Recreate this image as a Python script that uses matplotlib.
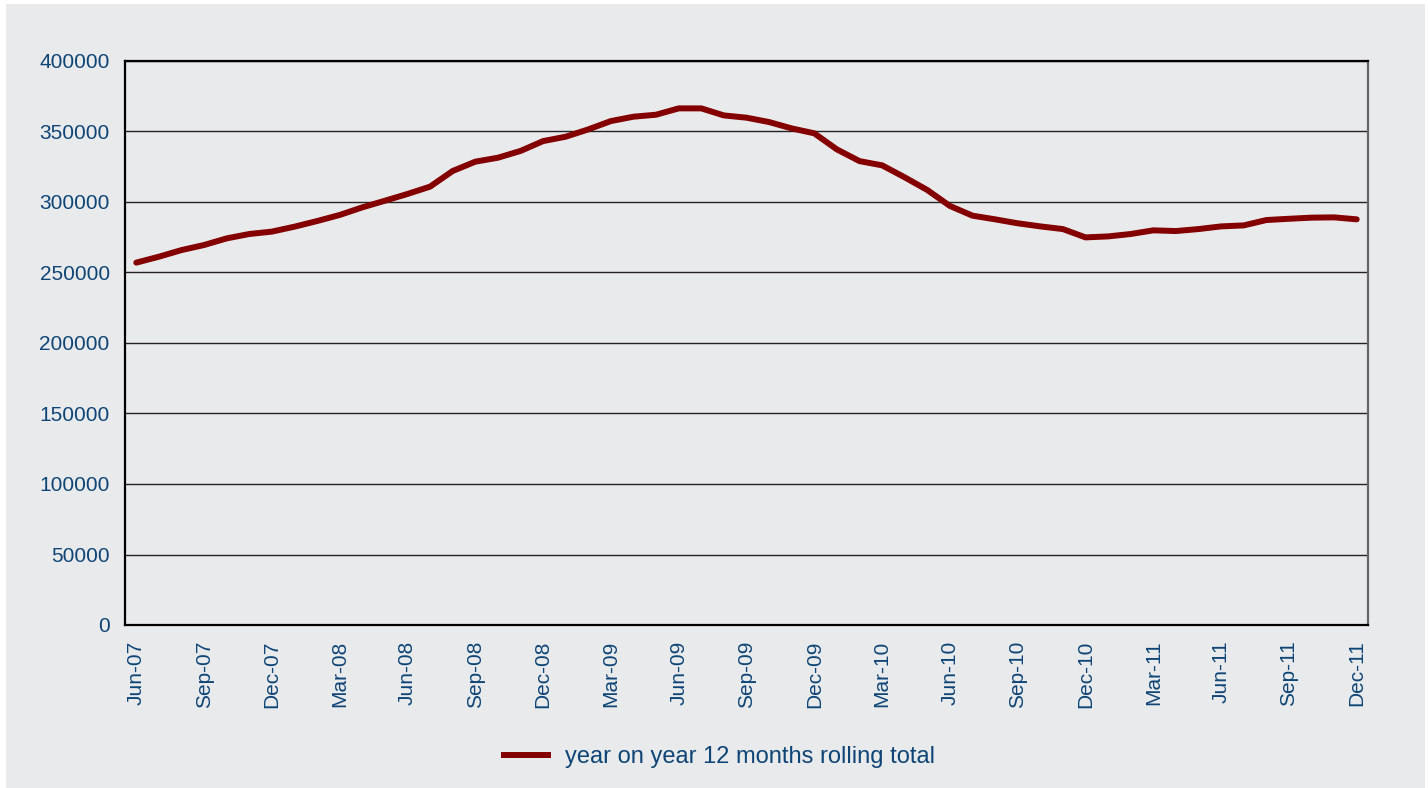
import numpy as np
import matplotlib.pyplot as plt
from matplotlib.patches import Rectangle

plt.rcParams['font.family'] = ['Liberation Sans', 'DejaVu Sans']

# monthly, Jun-07 .. Dec-11
month_names = ['Jan', 'Feb', 'Mar', 'Apr', 'May', 'Jun', 'Jul', 'Aug', 'Sep', 'Oct', 'Nov', 'Dec']
labels = []
for k in range(55):
    m = (5 + k) % 12
    yr = 7 + (5 + k) // 12
    labels.append('%s-%02d' % (month_names[m], yr))

rolling_total = [257000, 261200, 265900, 269500, 274200, 277300, 279000, 282500, 286500,
                 290800, 296200, 300900, 305700, 310900, 322000, 328600, 331400, 336200,
                 343200, 346300, 351500, 357400, 360500, 361900, 366400, 366400, 361400,
                 359800, 356700, 352200, 348700, 337300, 329000, 326000, 317500, 308500,
                 297200, 290300, 287700, 284900, 282700, 280800, 274900, 275600, 277300,
                 279900, 279400, 280800, 282700, 283400, 287200, 288100, 288900, 289100,
                 287700]
series_name = 'year on year 12 months rolling total'

text_col = '#0e4576'
line_col = '#840000'

fig = plt.figure(figsize=(14.28, 7.88), dpi=100)
fig.patch.set_facecolor('white')
fig.patches.append(Rectangle((6 / 1428, 0), 1419 / 1428, 784 / 788, transform=fig.transFigure,
                             facecolor='#e9eaec', edgecolor='none', zorder=-10))

ax = fig.add_axes([125 / 1428, 1 - 625 / 788, 1243 / 1428, 564 / 788])
ax.set_facecolor('#e9eaec')
x = np.arange(len(rolling_total))
ax.plot(x, rolling_total, color=line_col, lw=4.3, solid_capstyle='round', label=series_name, zorder=3)

ax.set_xlim(-0.5, len(rolling_total) - 0.5)
ax.set_ylim(0, 400000)
ax.set_yticks(np.arange(0, 400001, 50000))
ax.yaxis.grid(True, color='#222222', lw=1.0)
ax.set_axisbelow(True)
ax.set_xticks(x[::3])
ax.set_xticklabels(labels[::3], rotation=90)
ax.tick_params(axis='both', length=0, labelcolor=text_col, labelsize=15)
ax.tick_params(axis='y', pad=11)
ax.tick_params(axis='x', pad=11)

for s in ['left', 'bottom', 'top']:
    ax.spines[s].set_color('black')
    ax.spines[s].set_linewidth(1.6)
ax.spines['right'].set_color('#666666')
ax.spines['right'].set_linewidth(1.6)

leg = fig.legend(loc='center', bbox_to_anchor=(718 / 1428, 1 - 757 / 788), frameon=False,
                 fontsize=17, handlelength=2.1, handletextpad=0.6)
for t in leg.get_texts():
    t.set_color(text_col)
for h in leg.get_lines():
    h.set_solid_capstyle('butt')

fig.savefig('out.png', dpi=100, facecolor=fig.get_facecolor())
